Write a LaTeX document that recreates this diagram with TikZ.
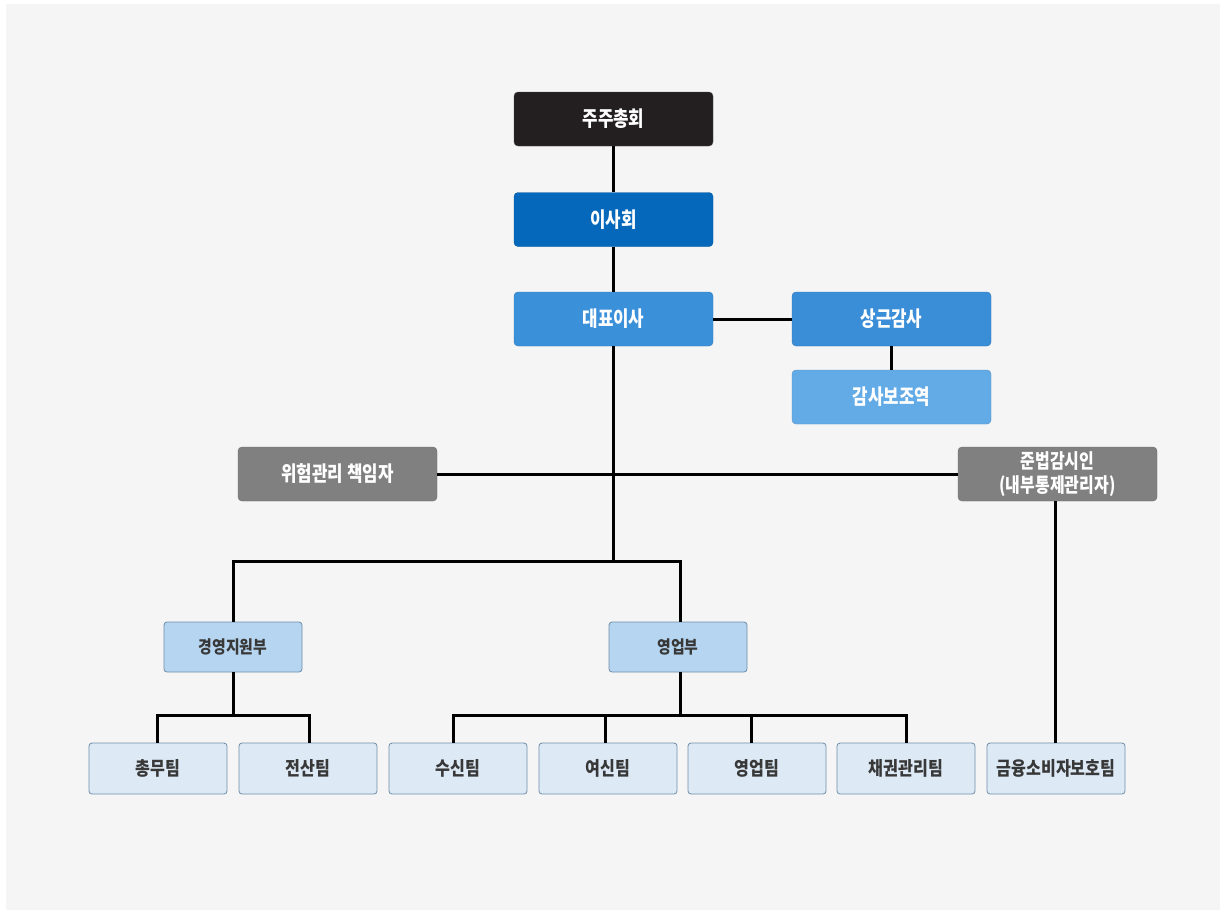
\documentclass[tikz,border=0pt]{standalone}
\usepackage{fontspec}
\newfontfamily\kr[FakeStretch=0.8]{Noto Sans CJK KR}
\newfontfamily\krb[FakeStretch=0.85]{Noto Sans CJK KR}
\definecolor{bgpanel}{HTML}{F5F5F5}
\definecolor{cblack}{HTML}{231F20}
\definecolor{cboard}{HTML}{0568BA}
\definecolor{cceo}{HTML}{3B90DA}
\definecolor{caud}{HTML}{3A8DD7}
\definecolor{caid}{HTML}{63ABE6}
\definecolor{cgray}{HTML}{808080}
\definecolor{cdept}{HTML}{B5D5F0}
\definecolor{cteam}{HTML}{DDEAF6}
\definecolor{cteamline}{HTML}{6F8DAA}
\definecolor{ctext}{HTML}{383838}
\begin{document}
\begin{tikzpicture}[x=1pt,y=-1pt,
  topbox/.style={rounded corners=4pt, minimum width=199pt, minimum height=54pt, inner sep=0pt,
     text=white, font=\kr\bfseries\fontsize{21}{24}\selectfont, align=center},
  deptbox/.style={rounded corners=3pt, minimum width=138pt, minimum height=50pt, inner sep=0pt,
     fill=cdept, draw=cteamline, line width=0.8pt, text=ctext, font=\krb\bfseries\fontsize{17.5}{20}\selectfont},
  teambox/.style={rounded corners=3pt, minimum width=138pt, minimum height=51pt, inner sep=0pt,
     fill=cteam, draw=cteamline, line width=0.8pt, text=ctext, font=\krb\bfseries\fontsize{19}{22}\selectfont},
  conn/.style={line width=3pt, black}]
\useasboundingbox (0,0) rectangle (1226,914);
\fill[white] (0,0) rectangle (1226,914);
\fill[bgpanel] (6,4) rectangle (1220,910);

\node[topbox, fill=cblack, draw=cblack!80!white] (gm) at (613.5,119) {주주총회};
\node[topbox, fill=cboard, draw=cboard!85!black] (board) at (613.5,219.5) {이사회};
\node[topbox, fill=cceo, draw=cceo!85!black] (ceo) at (613.5,319) {대표이사};
\node[topbox, fill=caud, draw=caud!85!black] (aud) at (891.5,319) {상근감사};
\node[topbox, fill=caid, draw=caid!85!black] (aid) at (891.5,397) {감사보조역};
\node[topbox, fill=cgray, draw=cgray!85!black] (risk) at (337.5,474) {위험관리 책임자};
\node[topbox, fill=cgray, draw=cgray!85!black, font=\kr\bfseries\fontsize{20}{24}\selectfont] (comp) at (1057.5,474) {준법감시인\\(내부통제관리자)};

\node[deptbox] (mgmt) at (233,647) {경영지원부};
\node[deptbox] (sales) at (678,647) {영업부};

\node[teambox] (t1) at (158,768.5) {총무팀};
\node[teambox] (t2) at (308,768.5) {전산팀};
\node[teambox] (t3) at (458,768.5) {수신팀};
\node[teambox] (t4) at (608,768.5) {여신팀};
\node[teambox] (t5) at (757,768.5) {영업팀};
\node[teambox] (t6) at (906,768.5) {채권관리팀};
\node[teambox] (t7) at (1056,768.5) {금융소비자보호팀};

\coordinate (split) at (613.5,561);
\coordinate (mgbus) at (233,715);
\coordinate (slbus) at (680,715);

\draw[conn] (gm.south) -- (board.north);
\draw[conn] (board.south) -- (ceo.north);
\draw[conn] (ceo.east) -- (aud.west);
\draw[conn] (aud.south) -- (aid.north);
\draw[conn] (risk.east) -- (comp.west);
\draw[conn] (ceo.south) -- (split);
\draw[conn] (split) -| (mgmt.north);
\draw[conn] (split) -| ([xshift=2pt]sales.north);
\draw[conn] (mgmt.south) -- (mgbus);
\draw[conn] (mgbus) -| ([xshift=-1pt]t1.north);
\draw[conn] (mgbus) -| ([xshift=1pt]t2.north);
\draw[conn] ([xshift=2pt]sales.south) -- (slbus);
\draw[conn] (slbus) -| ([xshift=-5pt]t3.north);
\draw[conn] (slbus) -| ([xshift=-3pt]t4.north);
\draw[conn] (slbus) -| ([xshift=-6pt]t5.north);
\draw[conn] (slbus) -| (t6.north);
\draw[conn] ([xshift=-2.5pt]comp.south) -- ([xshift=-1pt]t7.north);
\end{tikzpicture}
\end{document}
